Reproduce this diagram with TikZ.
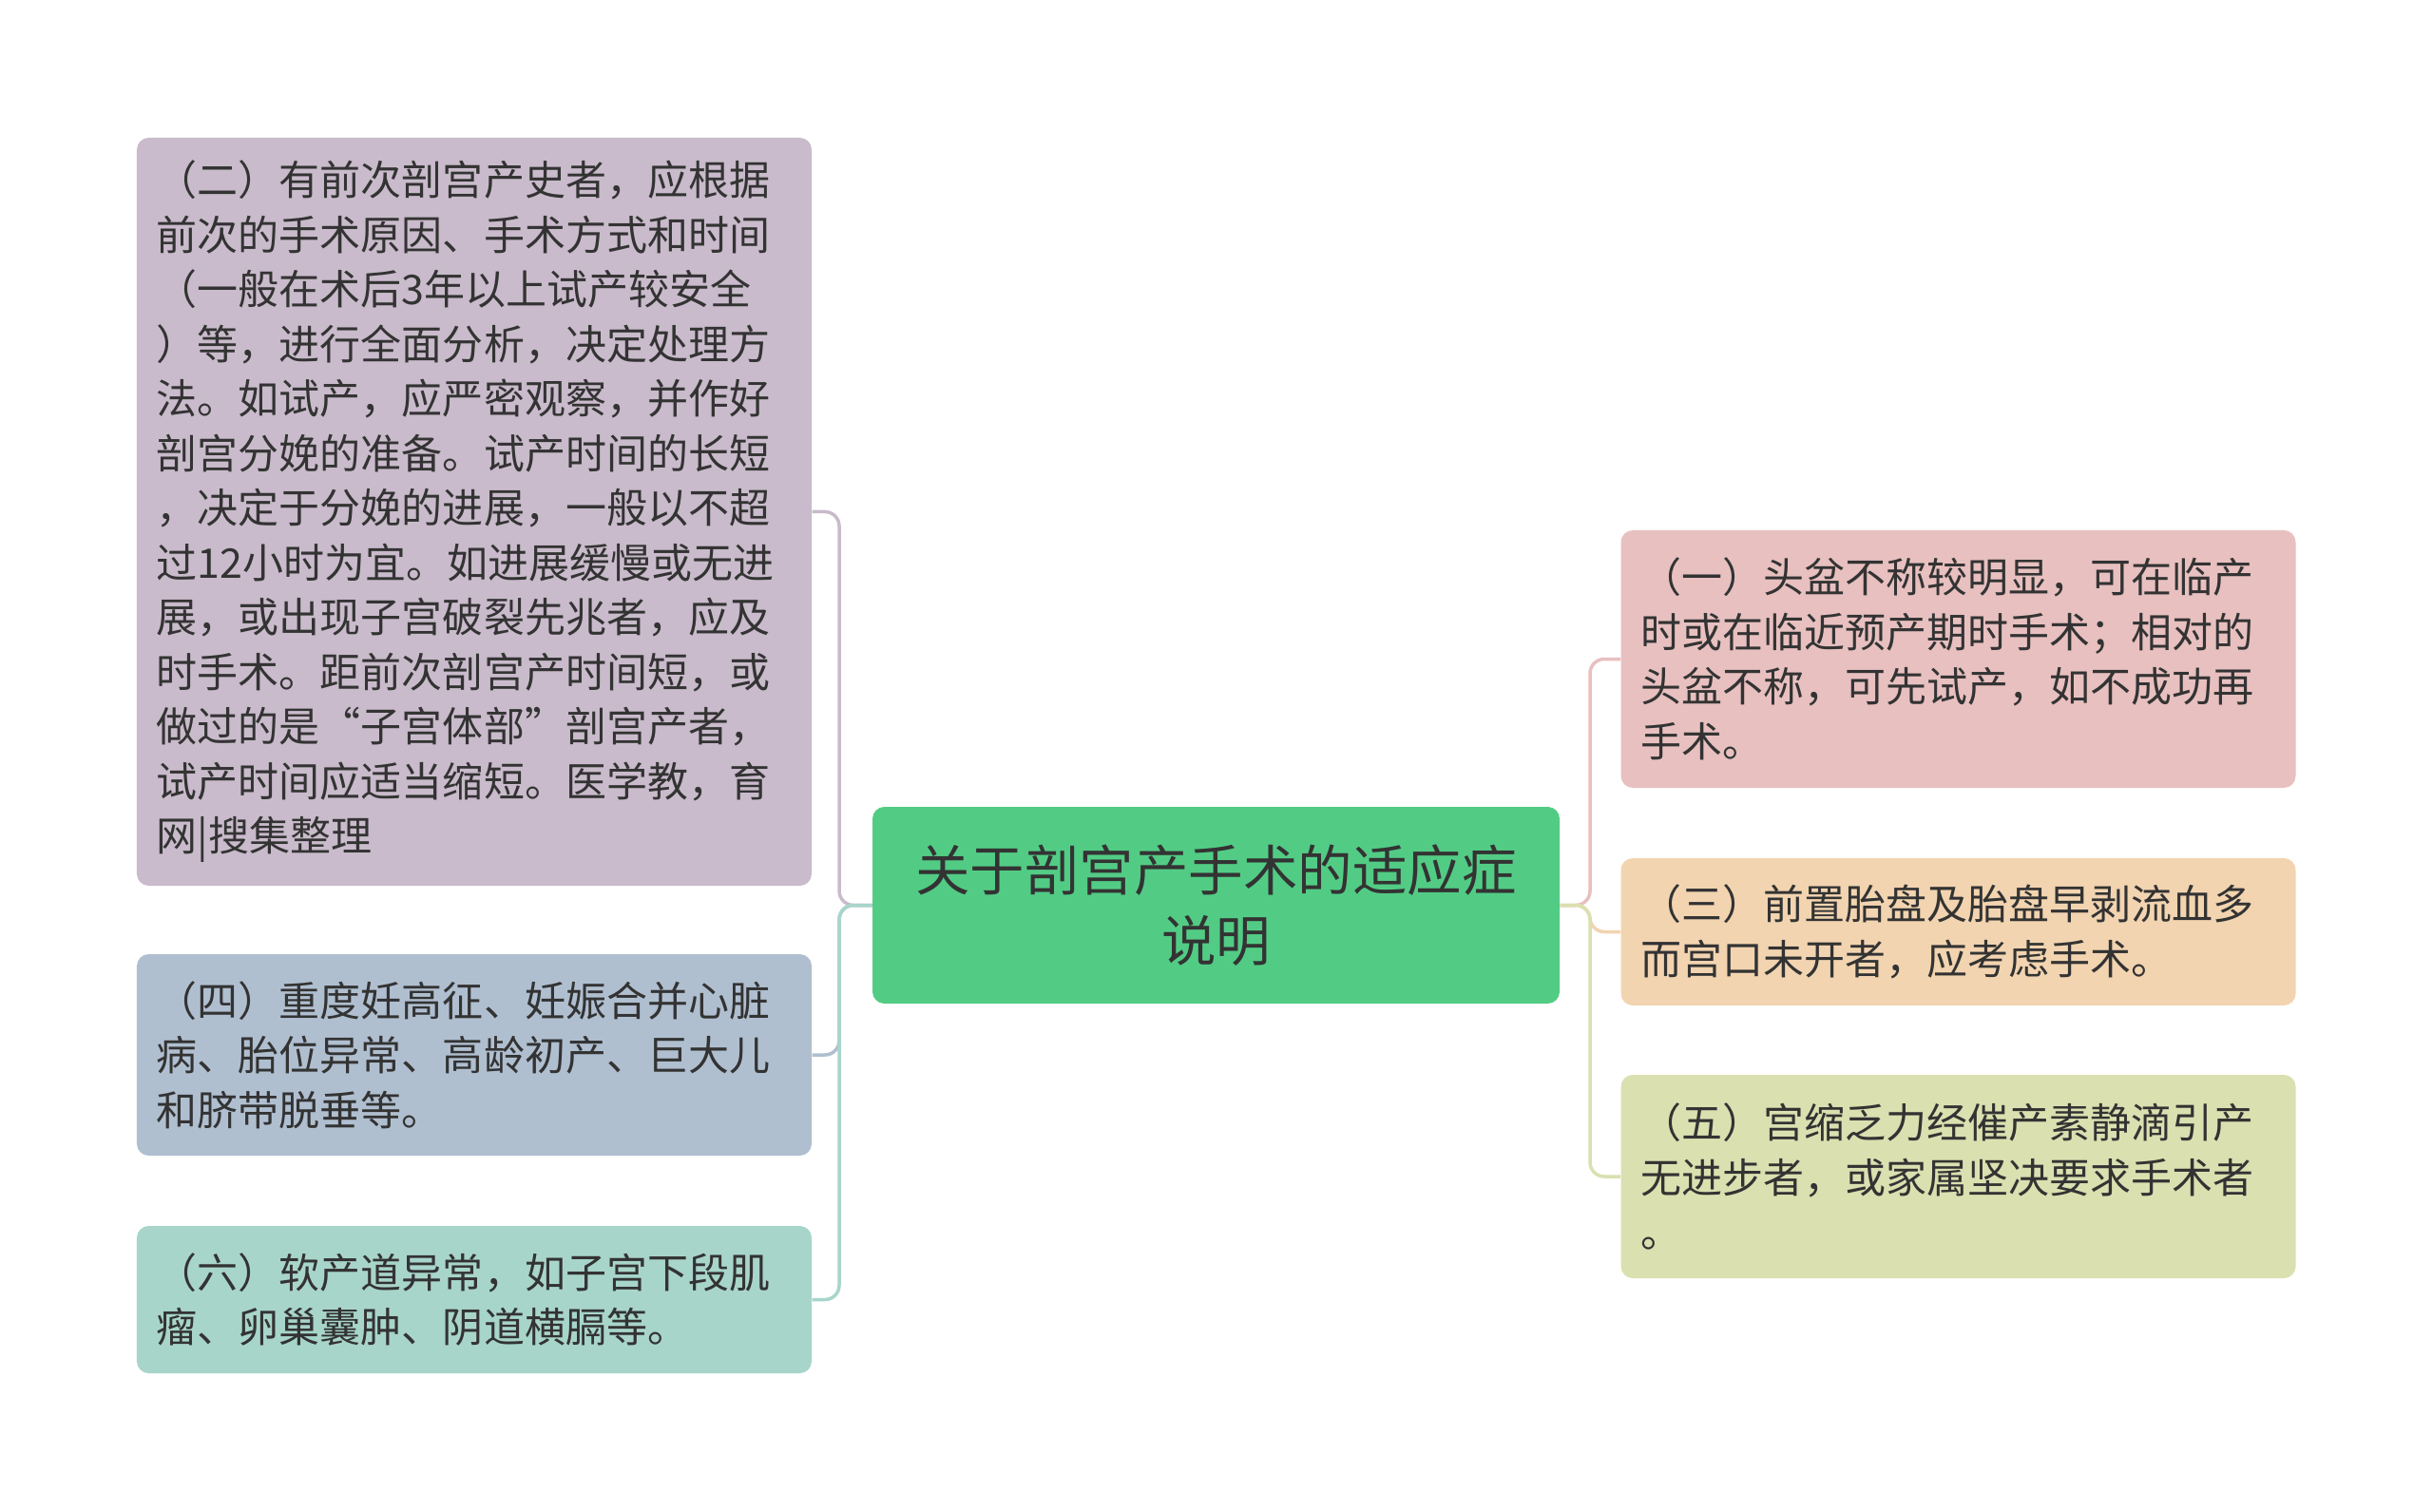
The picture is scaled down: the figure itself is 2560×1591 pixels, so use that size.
\documentclass[tikz,border=0pt]{standalone}
\usepackage{fontspec}
\setmainfont{Noto Sans CJK SC}
\begin{document}
\begin{tikzpicture}[x=0.4pt,y=-0.4pt]
\definecolor{txt}{HTML}{333333}
\definecolor{cII}{RGB}{201,187,203}
\definecolor{cIV}{RGB}{176,191,208}
\definecolor{cVI}{RGB}{168,213,202}
\definecolor{cMain}{RGB}{82,204,133}
\definecolor{cI}{RGB}{232,192,192}
\definecolor{cIII}{RGB}{242,212,176}
\definecolor{cV}{RGB}{218,224,176}
\tikzset{
  leaf/.style={rounded corners=5pt, inner xsep=8.4pt, inner ysep=0pt, text width=267.2pt, align=left,
    font=\fontsize{17.2pt}{23pt}\selectfont, text=txt, anchor=center},
  rootbox/.style={rounded corners=5pt, inner sep=0pt, minimum width=289.2pt, minimum height=82.8pt, align=center,
    font=\fontsize{23pt}{29.4pt}\selectfont, text=txt, fill=cMain},
  conn/.style={line width=1.4pt, rounded corners=6pt}
}
\useasboundingbox (0,0) rectangle (2560,1591);
\fill[white] (0,0) rectangle (2560,1591);

\node[rootbox] (c) at (1279.5,952.5) {关于剖宫产手术的适应症\\说明};

\node[leaf, fill=cII, minimum height=314.8pt] (b2) at (499,538.5) {（二）有前次剖宫产史者，应根据\\前次的手术原因、手术方式和时间\\（一般在术后3年以上试产较安全\\）等，进行全面分析，决定处理方\\法。如试产，应严密观察，并作好\\剖宫分娩的准备。试产时间的长短\\，决定于分娩的进展，一般以不超\\过12小时为宜。如进展缓慢或无进\\展，或出现子宫破裂先兆者，应及\\时手术。距前次剖宫产时间短，或\\做过的是“子宫体部”剖宫产者，\\试产时间应适当缩短。医学教，育\\网|搜集整理};
\node[leaf, fill=cIV, minimum height=84.8pt] (b4) at (499,1110) {（四）重度妊高征、妊娠合并心脏\\病、胎位异常、高龄初产、巨大儿\\和脐带脱垂等。};
\node[leaf, fill=cVI, minimum height=62pt] (b6) at (499,1367.5) {（六）软产道异常，如子宫下段肌\\瘤、卵巢囊肿、阴道横膈等。};

\node[leaf, fill=cI, minimum height=108.4pt] (b1) at (2060.5,693.5) {（一）头盆不称较明显，可在临产\\时或在临近预产期时手术；相对的\\头盆不称，可先试产，如不成功再\\手术。};
\node[leaf, fill=cIII, minimum height=62pt] (b3) at (2060.5,980.5) {（三）前置胎盘及胎盘早剥流血多\\而宫口未开者，应考虑手术。};
\node[leaf, fill=cV, minimum height=85.6pt] (b5) at (2060.5,1238) {（五）宫缩乏力经催产素静滴引产\\无进步者，或家属坚决要求手术者\\。};

\coordinate (lj) at (883,952.5);
\coordinate (rj) at (1673,952.5);

\draw[conn, cII] (c.west) -- (lj) |- (b2.east);
\draw[conn, cIV] (c.west) -- (lj) |- (b4.east);
\draw[conn, cVI] (c.west) -- (lj) |- (b6.east);

\draw[conn, cI] (c.east) -- (rj) |- (b1.west);
\draw[conn, cIII] (c.east) -- (rj) |- (b3.west);
\draw[conn, cV] (c.east) -- (rj) |- (b5.west);
\end{tikzpicture}
\end{document}
